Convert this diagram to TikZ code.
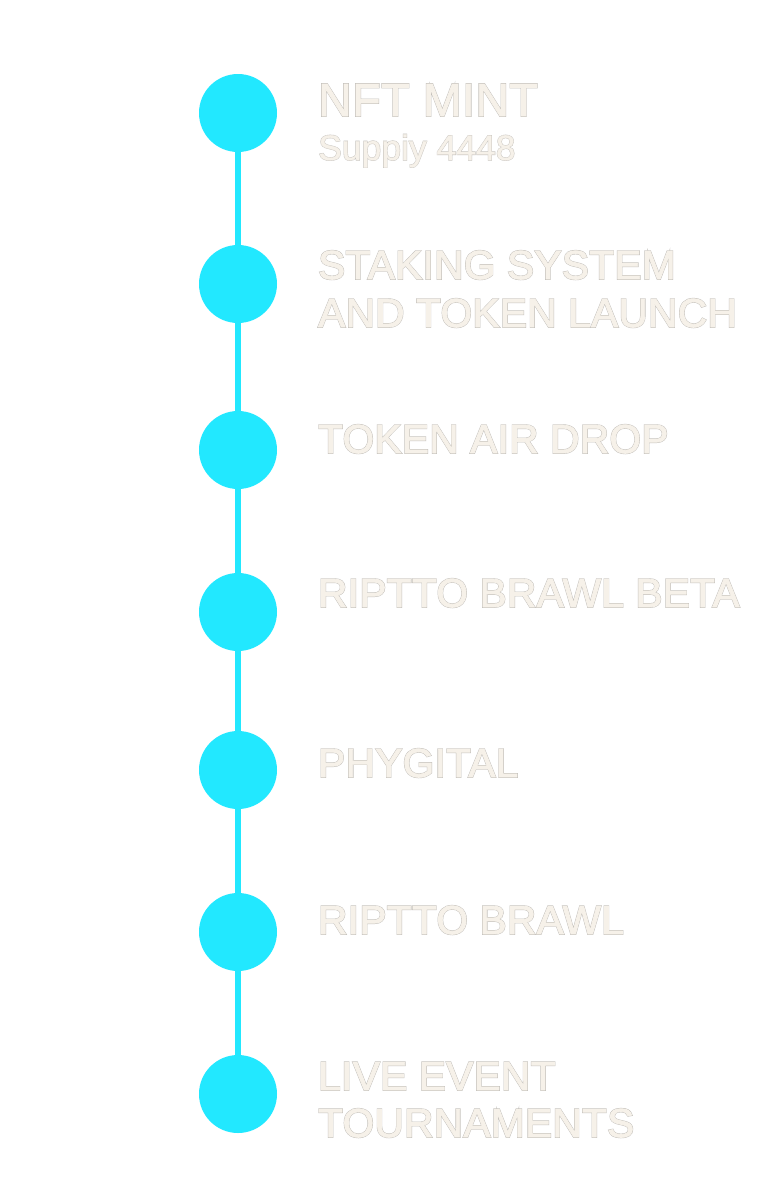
\documentclass[tikz,border=0pt]{standalone}
\usepackage{fontspec}
\setmainfont{Liberation Sans}
\definecolor{dotcyan}{RGB}{34,232,255}
\definecolor{txtfill}{RGB}{246,241,233}
% #1 outer stroke width, #2 inner stroke width, #3 text
\newcommand{\outlinedtxt}[3]{\rlap{\special{pdf:literal 2 Tr #1 w 0.76 0.75 0.73 RG}#3\special{pdf:literal 0 Tr}}\special{pdf:literal 2 Tr #2 w 0.965 0.945 0.914 RG}#3\special{pdf:literal 0 Tr}}
\newcommand{\outlined}[1]{\outlinedtxt{1.7}{0.8}{#1}}
\newcommand{\outlinedthin}[1]{\outlinedtxt{1.1}{0.3}{#1}}
\tikzset{
  dot/.style={circle,fill=dotcyan,draw=none,minimum size=78pt,inner sep=0pt},
  head/.style={anchor=base west,inner sep=0pt,text=txtfill,font=\fontsize{40.5}{40.5}\selectfont\addfontfeatures{LetterSpace=1}},
  bighead/.style={head,font=\fontsize{46.5}{46.5}\selectfont\addfontfeatures{LetterSpace=1}},
  subhead/.style={head,font=\fontsize{35.5}{35.5}\selectfont},
  spine/.style={draw=dotcyan,line width=6.5pt}
}
\begin{document}
\begin{tikzpicture}[x=1pt,y=-1pt]
\useasboundingbox (0,0) rectangle (768,1197);
\fill[white] (0,0) rectangle (768,1197);
\coordinate (p1) at (238,113);
\coordinate (p7) at (238,1094);
\draw[spine] (p1) -- (p7);
\node[dot] (c1) at (238,113) {};
\node[dot] (c2) at (238,284) {};
\node[dot] (c3) at (238,450) {};
\node[dot] (c4) at (238,612) {};
\node[dot] (c5) at (238,770) {};
\node[dot] (c6) at (238,932) {};
\node[dot] (c7) at (238,1094) {};
\node[bighead] (t1) at (318,116) {\outlined{NFT MINT}};
\node[subhead] (s1) at (318,160) {\outlinedthin{Suppiy 4448}};
\node[head] (t2a) at (318,279) {\outlined{STAKING SYSTEM}};
\node[head] (t2b) at (318,327) {\outlined{AND TOKEN LAUNCH}};
\node[head] (t3) at (318,453) {\outlined{TOKEN AIR DROP}};
\node[head] (t4) at (318,607) {\outlined{RIPTTO BRAWL BETA}};
\node[head] (t5) at (318,777) {\outlined{PHYGITAL}};
\node[head] (t6) at (318,934) {\outlined{RIPTTO BRAWL}};
\node[head] (t7a) at (318,1090) {\outlined{LIVE EVENT}};
\node[head] (t7b) at (318,1137) {\outlined{TOURNAMENTS}};
\end{tikzpicture}
\end{document}
